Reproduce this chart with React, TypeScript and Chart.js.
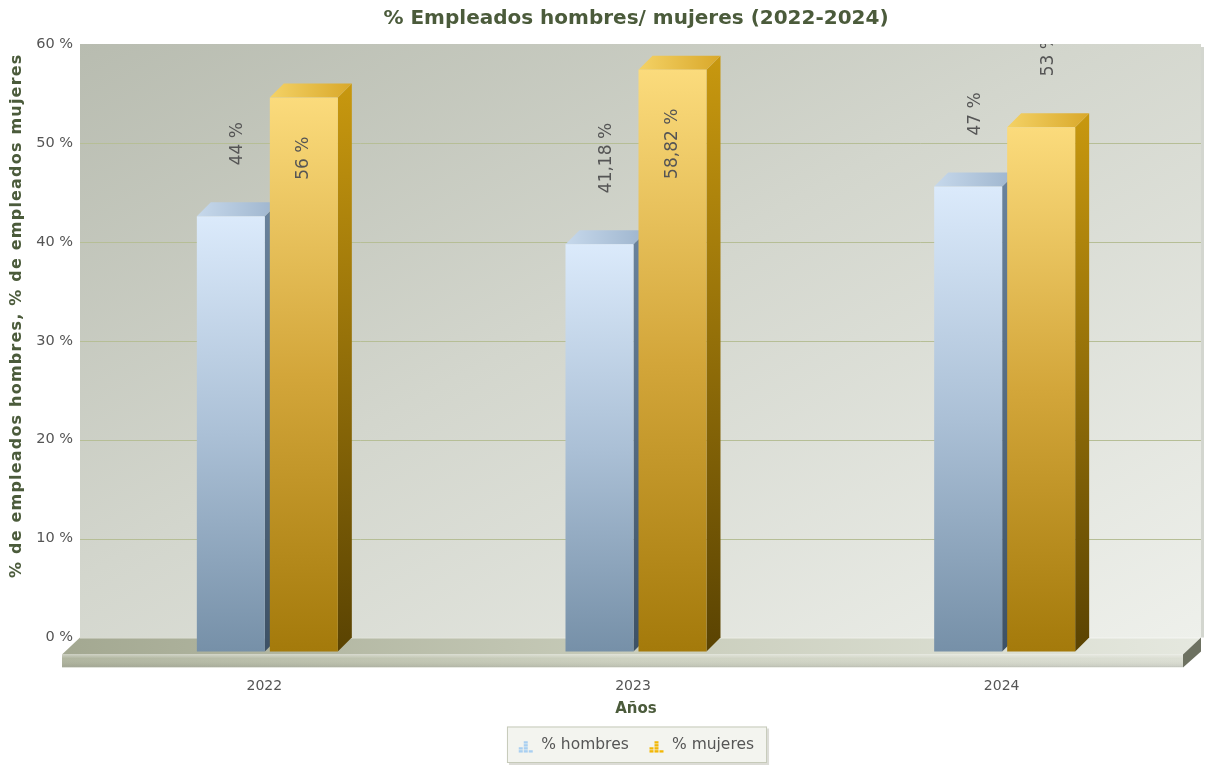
import React, { useEffect, useRef } from "react";
import { Chart, registerables } from "chart.js";
Chart.register(...registerables);

const categories = ["2022", "2023", "2024"];
const hombres = [44, 41.18, 47];
const mujeres = [56, 58.82, 53];
const seriesNames = ["% hombres", "% mujeres"];
const yTickValues = [0, 10, 20, 30, 40, 50, 60];
const chartTitle = "% Empleados hombres/ mujeres (2022-2024)";
const yTitle = "% de empleados hombres, % de empleados mujeres";
const xTitle = "Años";

const D = 14;
const FONT = "'DejaVu Sans', Verdana, sans-serif";
const TITLE_COLOR = "#4b5b3b";
const TEXT_COLOR = "#555555";

function fmt(v: number): string {
  return (Number.isInteger(v) ? String(v) : v.toFixed(2).replace(".", ",")) + " %";
}

function makeIcon(color: string): HTMLCanvasElement {
  const c = document.createElement("canvas");
  c.width = 18;
  c.height = 16;
  const g = c.getContext("2d")!;
  g.fillStyle = color;
  const cols = [
    [2, 3],
    [7, 2],
    [12, 3],
  ];
  const heights = [2, 4, 1];
  cols.forEach(([x], k) => {
    for (let s = 0; s < heights[k]; s++) {
      g.fillRect(x, 13 - s * 3, 4, 2.4);
    }
  });
  g.globalAlpha = 0.5;
  return c;
}

const faces = [
  {
    front: ["#dbeafb", "#abc0d6", "#7690a8"],
    side: ["#6a839d", "#3d5165"],
    top: ["#c6d8eb", "#9db4cd"],
  },
  {
    front: ["#fbdb7c", "#d3a63a", "#a47a0b"],
    side: ["#c8980f", "#5a4302"],
    top: ["#f4d266", "#d9a82a"],
  },
];

const threeD = {
  id: "threeD",
  beforeDraw(chart: any) {
    const ctx = chart.ctx;
    const lg = chart.legend;
    if (lg && lg.legendHitBoxes && lg.legendHitBoxes.length) {
      const hb = lg.legendHitBoxes;
      const l = Math.min(...hb.map((h: any) => h.left)) - 11;
      const r = Math.max(...hb.map((h: any) => h.left + h.width)) + 13;
      const t = hb[0].top - 11;
      const b = hb[0].top + hb[0].height + 10;
      ctx.save();
      ctx.fillStyle = "#dcdcd6";
      ctx.fillRect(l + 2, t + 2, r - l, b - t);
      ctx.fillStyle = "#f3f4ef";
      ctx.fillRect(l, t, r - l, b - t);
      ctx.strokeStyle = "#c6cab9";
      ctx.lineWidth = 1;
      ctx.strokeRect(l + 0.5, t + 0.5, r - l - 1, b - t - 1);
      ctx.restore();
    }
  },
  beforeDatasetsDraw(chart: any) {
    const ctx = chart.ctx;
    const ca = chart.chartArea;
    const ys = chart.scales.y;
    const wl = ca.left - 3;
    const wr = ca.right + 12;
    const wt = ys.getPixelForValue(60) - D;
    const wb = ys.getPixelForValue(0) - D;
    const W = wr - wl;
    const H = wb - wt;
    const s = (2 * W * H) / (W * W + H * H);
    ctx.save();
    ctx.fillStyle = "#d3d6cf";
    ctx.fillRect(wr, wt + 3, 3, H - 3);
    const g = ctx.createLinearGradient(wl, wt, wl + s * H, wt + s * W);
    g.addColorStop(0, "#b8bcb0");
    g.addColorStop(0.45, "#d3d6cd");
    g.addColorStop(1, "#eef0eb");
    ctx.fillStyle = g;
    ctx.fillRect(wl, wt, W, H);
    ctx.strokeStyle = "#b6be96";
    ctx.lineWidth = 1;
    for (const v of yTickValues) {
      if (v === 0 || v === 60) continue;
      const py = Math.round(ys.getPixelForValue(v) - D) + 0.5;
      ctx.beginPath();
      ctx.moveTo(wl, py);
      ctx.lineTo(wr, py);
      ctx.stroke();
    }
    const fb = wb;
    const ff = ca.bottom + 3;
    const fbot = ff + 13;
    const dx = 18;
    const gt = ctx.createLinearGradient(wl - dx, 0, wr, 0);
    gt.addColorStop(0, "#a3a891");
    gt.addColorStop(0.5, "#c8ccba");
    gt.addColorStop(1, "#e5e8df");
    ctx.fillStyle = gt;
    ctx.beginPath();
    ctx.moveTo(wl, fb);
    ctx.lineTo(wr, fb);
    ctx.lineTo(wr - dx, ff);
    ctx.lineTo(wl - dx, ff);
    ctx.closePath();
    ctx.fill();
    ctx.strokeStyle = "rgba(255,255,255,0.6)";
    ctx.beginPath();
    ctx.moveTo(wl, fb + 0.5);
    ctx.lineTo(wr, fb + 0.5);
    ctx.stroke();
    const gf = ctx.createLinearGradient(wl - dx, 0, wr - dx, 0);
    gf.addColorStop(0, "#b0b59f");
    gf.addColorStop(0.5, "#cdd1c0");
    gf.addColorStop(1, "#dcdfd4");
    ctx.fillStyle = gf;
    ctx.fillRect(wl - dx, ff, W, fbot - ff);
    const gv = ctx.createLinearGradient(0, ff, 0, fbot);
    gv.addColorStop(0, "rgba(255,255,255,0.35)");
    gv.addColorStop(0.3, "rgba(255,255,255,0.0)");
    gv.addColorStop(0.85, "rgba(0,0,0,0.06)");
    gv.addColorStop(1, "rgba(255,255,255,0.4)");
    ctx.fillStyle = gv;
    ctx.fillRect(wl - dx, ff, W, fbot - ff);
    ctx.fillStyle = "#6d7161";
    ctx.beginPath();
    ctx.moveTo(wr - dx, ff);
    ctx.lineTo(wr, fb);
    ctx.lineTo(wr, fb + 14);
    ctx.lineTo(wr - dx, fbot);
    ctx.closePath();
    ctx.fill();
    ctx.restore();
  },
  afterDatasetsDraw(chart: any) {
    const ctx = chart.ctx;
    const ys = chart.scales.y;
    const metas = [0, 1].map((i) => chart.getDatasetMeta(i));
    const wt = ys.getPixelForValue(60) - D;
    ctx.save();
    for (let j = 0; j < categories.length; j++) {
      for (let i = 0; i < 2; i++) {
        const el = metas[i].data[j];
        const { x, y, base, width } = el.getProps(["x", "y", "base", "width"], true);
        const L = x - width / 2;
        const R = x + width / 2;
        const f = faces[i];
        const gs = ctx.createLinearGradient(0, y - D, 0, base);
        gs.addColorStop(0, f.side[0]);
        gs.addColorStop(1, f.side[1]);
        ctx.fillStyle = gs;
        ctx.beginPath();
        ctx.moveTo(R, y);
        ctx.lineTo(R + D, y - D);
        ctx.lineTo(R + D, base - D);
        ctx.lineTo(R, base);
        ctx.closePath();
        ctx.fill();
        const gt = ctx.createLinearGradient(L, 0, R + D, 0);
        gt.addColorStop(0, f.top[0]);
        gt.addColorStop(1, f.top[1]);
        ctx.fillStyle = gt;
        ctx.beginPath();
        ctx.moveTo(L, y);
        ctx.lineTo(R, y);
        ctx.lineTo(R + D, y - D);
        ctx.lineTo(L + D, y - D);
        ctx.closePath();
        ctx.fill();
        const gf = ctx.createLinearGradient(0, y, 0, base);
        gf.addColorStop(0, f.front[0]);
        gf.addColorStop(0.5, f.front[1]);
        gf.addColorStop(1, f.front[2]);
        ctx.fillStyle = gf;
        ctx.fillRect(L, y, R - L, base - y);
      }
    }
    ctx.beginPath();
    ctx.rect(0, wt, chart.width, chart.height);
    ctx.clip();
    ctx.font = `17px ${FONT}`;
    ctx.fillStyle = TEXT_COLOR;
    ctx.textAlign = "left";
    ctx.textBaseline = "middle";
    for (let i = 0; i < 2; i++) {
      const ds = chart.data.datasets[i];
      for (let j = 0; j < categories.length; j++) {
        const el = metas[i].data[j];
        const { x, y } = el.getProps(["x", "y"], true);
        const txt = fmt(ds.data[j]);
        const tw = ctx.measureText(txt).width;
        let start = y - 51;
        let cx = x + D / 2;
        if (start - tw < 20) {
          start = y + 39 + tw;
          cx = x;
        }
        ctx.save();
        ctx.translate(cx, start);
        ctx.rotate(-Math.PI / 2);
        ctx.fillText(txt, 0, 0);
        ctx.restore();
      }
    }
    ctx.restore();
  },
  afterDraw(chart: any) {
    const ctx = chart.ctx;
    const ys = chart.scales.y;
    const wt = ys.getPixelForValue(60) - D;
    const wb = ys.getPixelForValue(0) - D;
    ctx.save();
    ctx.font = `bold 16px ${FONT}`;
    (ctx as any).letterSpacing = "1.2px";
    ctx.fillStyle = TITLE_COLOR;
    ctx.textAlign = "center";
    ctx.textBaseline = "middle";
    ctx.translate(17, (wt + wb) / 2 - 25);
    ctx.rotate(-Math.PI / 2);
    ctx.fillText(yTitle, 0, 0);
    ctx.restore();
  },
};

export default function App() {
  const ref = useRef<HTMLCanvasElement>(null);
  useEffect(() => {
    const icons = [makeIcon("#a9cff1"), makeIcon("#f2b705")];
    const chart = new Chart(ref.current!, {
      type: "bar",
      data: {
        labels: categories,
        datasets: [
          { label: seriesNames[0], data: hombres, backgroundColor: "rgba(0,0,0,0)" },
          { label: seriesNames[1], data: mujeres, backgroundColor: "rgba(0,0,0,0)" },
        ],
      },
      options: {
        animation: false,
        responsive: false,
        devicePixelRatio: 1,
        layout: { padding: { left: 8, right: 18, top: 0, bottom: 4 } },
        datasets: { bar: { categoryPercentage: 0.396, barPercentage: 0.9315 } },
        plugins: {
          tooltip: { enabled: false },
          title: {
            display: true,
            text: chartTitle,
            fullSize: false,
            color: TITLE_COLOR,
            font: { family: FONT, size: 20, weight: "bold" },
            padding: { top: 7, bottom: 27 },
          },
          legend: {
            position: "bottom",
            fullSize: false,
            labels: {
              usePointStyle: true,
              padding: 20,
              color: TEXT_COLOR,
              font: { family: FONT, size: 15.5 },
              generateLabels: (c: any) =>
                c.data.datasets.map((ds: any, i: number) => ({
                  text: ds.label,
                  fillStyle: "rgba(0,0,0,0)",
                  strokeStyle: "rgba(0,0,0,0)",
                  lineWidth: 0,
                  pointStyle: icons[i],
                  hidden: false,
                  datasetIndex: i,
                  fontColor: TEXT_COLOR,
                })),
            },
          },
        },
        scales: {
          x: {
            grid: { display: false, drawTicks: false },
            border: { display: false },
            ticks: { color: TEXT_COLOR, font: { family: FONT, size: 14 }, padding: 26, labelOffset: -3 },
            title: {
              display: true,
              text: xTitle,
              color: TITLE_COLOR,
              font: { family: FONT, size: 15, weight: "bold" },
              padding: { top: 0, bottom: -1 },
            },
            afterFit: (s: any) => {
              s.height = 66;
            },
          },
          y: {
            min: 0,
            max: 60,
            grid: { display: false, drawTicks: false },
            border: { display: false },
            afterBuildTicks: (s: any) => {
              s.ticks = yTickValues.map((v) => ({ value: v }));
            },
            ticks: {
              color: TEXT_COLOR,
              font: { family: FONT, size: 14.5 },
              padding: 10,
              labelOffset: -D,
              callback: (v: any) => v + " %",
            },
            afterFit: (s: any) => {
              s.width = 75;
            },
          },
        },
      },
      plugins: [threeD],
    });
    return () => chart.destroy();
  }, []);
  return (
    <div style={{ position: "fixed", left: 0, top: 0, width: 1207, height: 767, background: "#fff" }}>
      <canvas ref={ref} width={1207} height={767} style={{ display: "block" }} />
    </div>
  );
}
